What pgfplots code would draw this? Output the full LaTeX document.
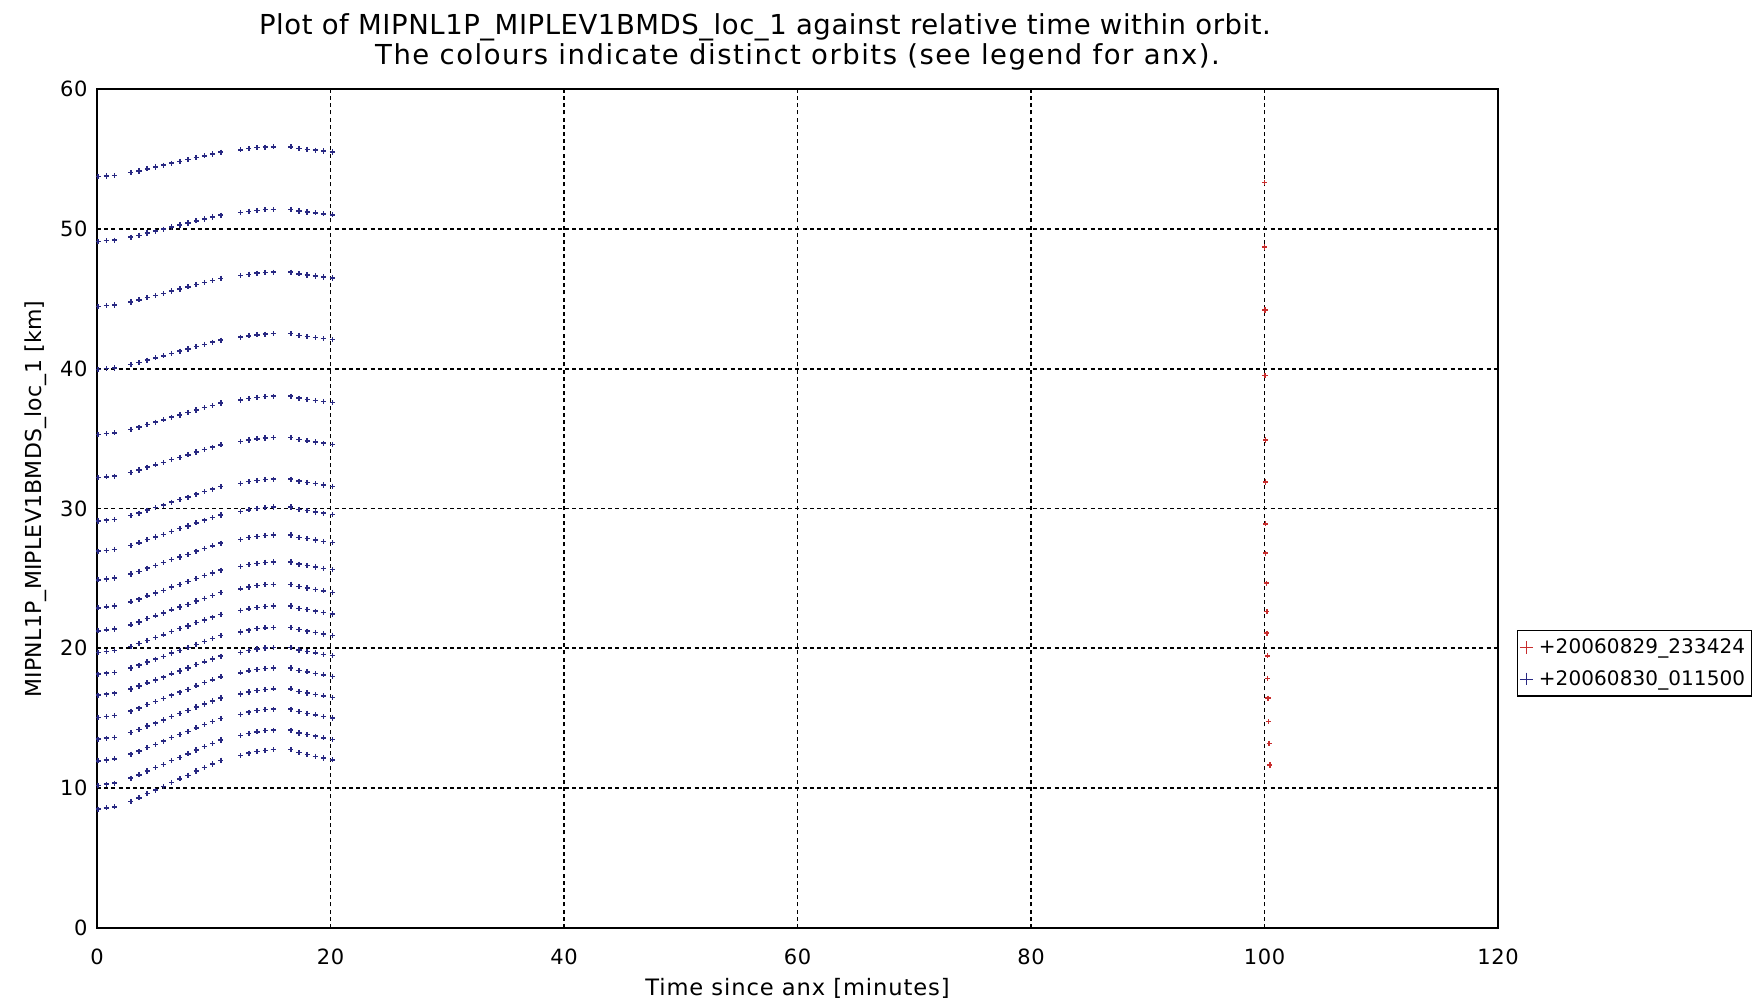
\documentclass[border=0pt]{standalone}
\usepackage{pgfplots}
\pgfplotsset{compat=1.18}
\usepackage{pgfplotstable}
\usepackage{fontspec}
\setmainfont{DejaVu Sans}
\newfontfamily\titlefont[LetterSpace=5.5]{DejaVu Sans}
\newfontfamily\titlefonta[LetterSpace=2]{DejaVu Sans}
\newfontfamily\labfont[LetterSpace=3]{DejaVu Sans}
\newfontfamily\legfont[LetterSpace=0.5]{DejaVu Sans}
\newfontfamily\xlabfont[LetterSpace=4]{DejaVu Sans}
\newfontfamily\ylabfont[LetterSpace=1]{DejaVu Sans}
\definecolor{idlred}{RGB}{200,45,45}
\definecolor{idlblue}{RGB}{40,40,130}

\pgfplotstableread{
x r1 r2 r3 r4 r5 r6 r7 r8 r9 r10 r11 r12 r13 r14 r15 r16 r17 r18 r19
0.1 53.74 49.10 44.45 39.95 35.30 32.20 29.10 26.95 24.90 22.90 21.25 19.70 18.15 16.65 15.05 13.50 11.95 10.20 8.50
0.8 53.78 49.15 44.50 40.00 35.35 32.26 29.16 27.01 24.96 22.97 21.32 19.77 18.22 16.72 15.12 13.57 12.02 10.28 8.59
1.5 53.82 49.19 44.55 40.05 35.41 32.31 29.22 27.08 25.03 23.03 21.38 19.83 18.28 16.79 15.19 13.64 12.10 10.36 8.67
2.9 54.02 49.40 44.77 40.28 35.65 32.57 29.49 27.36 25.32 23.33 21.68 20.13 18.59 17.09 15.51 13.97 12.43 10.71 9.05
3.6 54.14 49.54 44.92 40.43 35.82 32.75 29.67 27.55 25.51 23.52 21.88 20.33 18.79 17.30 15.72 14.18 12.65 10.95 9.31
4.3 54.29 49.70 45.09 40.61 36.01 32.95 29.88 27.77 25.73 23.75 22.12 20.57 19.02 17.53 15.97 14.44 12.91 11.23 9.61
5.0 54.42 49.83 45.23 40.77 36.17 33.12 30.06 27.96 25.92 23.95 22.32 20.77 19.22 17.74 16.19 14.65 13.13 11.46 9.86
5.7 54.55 49.97 45.38 40.92 36.34 33.29 30.24 28.15 26.12 24.15 22.52 20.97 19.42 17.94 16.40 14.87 13.36 11.70 10.12
6.4 54.69 50.13 45.55 41.10 36.53 33.49 30.45 28.37 26.34 24.38 22.75 21.20 19.66 18.18 16.65 15.12 13.62 11.98 10.41
7.1 54.82 50.27 45.70 41.25 36.69 33.66 30.63 28.56 26.53 24.57 22.95 21.40 19.86 18.38 16.86 15.34 13.84 12.21 10.67
7.8 54.95 50.41 45.85 41.40 36.86 33.84 30.81 28.75 26.72 24.77 23.15 21.60 20.06 18.59 17.07 15.55 14.06 12.45 10.92
8.5 55.10 50.57 46.02 41.58 37.05 34.04 31.02 28.97 26.95 25.00 23.38 21.83 20.29 18.83 17.32 15.80 14.32 12.73 11.22
9.2 55.22 50.70 46.17 41.74 37.21 34.21 31.20 29.16 27.14 25.20 23.58 22.03 20.50 19.03 17.54 16.02 14.54 12.97 11.48
9.9 55.35 50.84 46.31 41.89 37.37 34.38 31.38 29.34 27.33 25.39 23.78 22.23 20.70 19.23 17.75 16.24 14.76 13.20 11.73
10.6 55.48 50.98 46.46 42.04 37.54 34.55 31.56 29.53 27.52 25.59 23.98 22.43 20.90 19.44 17.96 16.45 14.98 13.44 11.99
12.3 55.65 51.16 46.66 42.25 37.76 34.78 31.80 29.79 27.78 25.85 24.25 22.70 21.17 19.71 18.25 16.74 15.28 13.76 12.33
13.0 55.73 51.25 46.75 42.35 37.87 34.90 31.92 29.91 27.91 25.98 24.38 22.83 21.30 19.85 18.39 16.88 15.43 13.91 12.50
13.7 55.80 51.32 46.83 42.42 37.95 34.98 32.01 30.01 28.00 26.08 24.48 22.93 21.40 19.95 18.49 16.99 15.54 14.03 12.62
14.4 55.84 51.37 46.88 42.47 38.00 35.04 32.07 30.07 28.07 26.15 24.55 23.00 21.47 20.02 18.56 17.06 15.61 14.11 12.71
15.1 55.86 51.39 46.90 42.50 38.03 35.07 32.10 30.10 28.10 26.18 24.58 23.03 21.50 20.05 18.60 17.10 15.65 14.15 12.75
16.6 55.86 51.39 46.90 42.50 38.03 35.07 32.10 30.10 28.10 26.18 24.58 23.03 21.50 20.05 18.60 17.10 15.65 14.15 12.75
17.3 55.75 51.28 46.78 42.37 37.89 34.93 31.95 29.94 27.94 26.02 24.41 22.86 21.33 19.88 18.42 16.92 15.47 13.95 12.54
18.0 55.69 51.21 46.70 42.30 37.81 34.84 31.86 29.85 27.84 25.92 24.31 22.76 21.23 19.78 18.32 16.81 15.35 13.83 12.41
18.7 55.63 51.14 46.63 42.22 37.73 34.75 31.77 29.75 27.75 25.82 24.21 22.66 21.13 19.68 18.21 16.70 15.24 13.72 12.28
19.4 55.56 51.07 46.56 42.14 37.65 34.67 31.68 29.66 27.65 25.72 24.11 22.56 21.03 19.57 18.10 16.60 15.13 13.60 12.16
20.15 55.50 51.00 46.48 42.07 37.57 34.58 31.59 29.56 27.56 25.62 24.01 22.46 20.93 19.47 18.00 16.49 15.02 13.48 12.03
}\bluedata

\pgfplotsset{
  ptstyle/.style={only marks, mark=+, mark size=1.3pt, mark options={line width=0.75pt}},
}

\begin{document}
\begin{tikzpicture}
\useasboundingbox (-48.5pt,-38.5pt) rectangle (833pt,464pt);
\begin{axis}[
  at={(0pt,0pt)}, anchor=south west,
  scale only axis, width=700.5pt, height=419.5pt,
  xmin=0, xmax=120, ymin=0, ymax=60,
  xtick={0,20,...,120}, ytick={0,10,...,60},
  grid=major,
  major grid style={black, line width=0.9pt, dash pattern=on 2pt off 1.6pt},
  major tick length=0pt,
  axis line style={black, line width=0.85pt},
  tick label style={font={\labfont\fontsize{10.5}{12}\selectfont}},
  /pgf/number format/assume math mode=true,
  xticklabel style={anchor=base, inner sep=0pt, yshift=-18.5pt},
  yticklabel style={anchor=east, inner sep=0pt, xshift=-4.5pt},
  legend style={at={(1.0136,0.3555)}, anchor=north west, draw=black, line width=0.6pt,
    font={\legfont\fontsize{10}{12}\selectfont}, inner xsep=1pt, inner ysep=2pt,
    row sep=3pt, cells={anchor=west}},
  legend cell align=left,
  legend image code/.code={%
    \draw[#1, mark size=3.2pt, mark options={line width=0.5pt}] plot coordinates {(3pt,0pt)};
    \path (0pt,0pt) (7pt,0pt);},
]
\addplot[ptstyle, color=idlred] coordinates {
 (100.0,53.3) (100.0,48.7) (100.05,44.2) (100.05,39.5) (100.1,34.9) (100.1,31.9)
 (100.1,28.9) (100.1,26.8) (100.15,24.66) (100.2,22.63) (100.2,21.08) (100.25,19.46)
 (100.25,17.86) (100.3,16.43) (100.35,14.76) (100.4,13.21) (100.45,11.66)};
\addlegendentry{+20060829\_233424}
\addplot[ptstyle, color=idlblue] table[x=x, y=r1] {\bluedata};
\addlegendentry{+20060830\_011500}
\pgfplotsinvokeforeach{2,...,19}{
  \addplot[ptstyle, color=idlblue, forget plot] table[x=x, y=r#1] {\bluedata};
}
\end{axis}
\node[anchor=base, font={\titlefonta\fontsize{13.75}{15}\selectfont}] at (334pt,446.5pt)
  {Plot of MIPNL1P\_MIPLEV1BMDS\_loc\_1 against relative time within orbit.};
\node[anchor=base, font={\titlefont\fontsize{13.75}{15}\selectfont}] at (350.25pt,431.5pt)
  {The colours indicate distinct orbits (see legend for anx).};
\node[anchor=base, font={\xlabfont\fontsize{11.3}{13}\selectfont}] at (350.25pt,-34pt)
  {Time since anx [minutes]};
\node[rotate=90, anchor=base, font={\ylabfont\fontsize{11}{13}\selectfont}] at (-27.6pt,214.5pt)
  {MIPNL1P\_MIPLEV1BMDS\_loc\_1 [km]};
\end{tikzpicture}
\end{document}
